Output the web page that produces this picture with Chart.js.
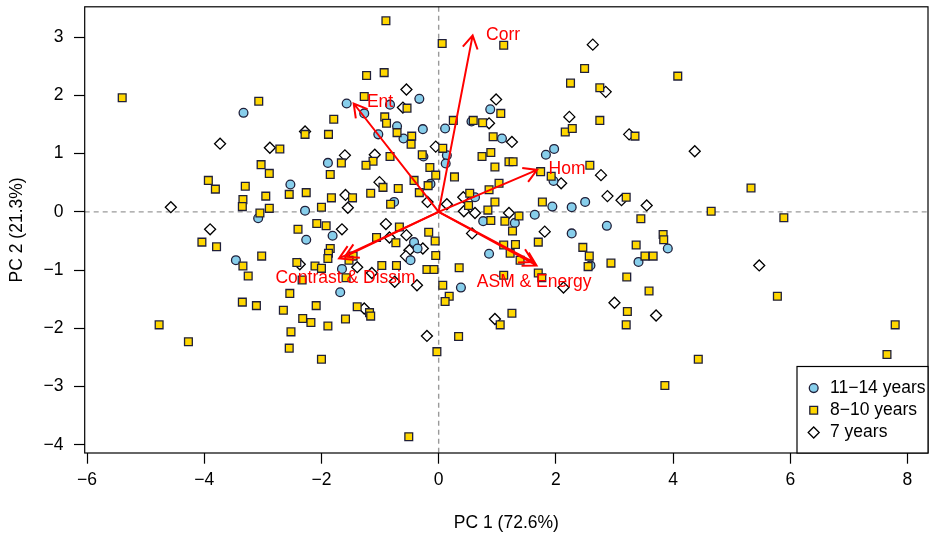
<!DOCTYPE html>
<html>
<head>
<meta charset="utf-8">
<script src="https://cdn.jsdelivr.net/npm/chart.js@4.4.0/dist/chart.umd.min.js"></script>
<style>
  body { margin: 0; background: #fff; }
  #wrap { width: 935px; height: 542px; }
</style>
</head>
<body>
<div id="wrap"><canvas id="biplot" width="935" height="542"></canvas></div>
<script>
// legend names of the three age groups
const groups = ['11\u221214 years', '8\u221210 years', '7 years']

// PC scores, [PC1, PC2]
const olderPts = [
    [-3.33, 1.70], [-1.57, 1.86], [-0.33, 1.94], [-0.83, 1.84], [-1.27, 1.69], [-0.71, 1.47], [-0.60, 1.26], [-0.27, 1.42],
    [0.11, 1.43], [-1.03, 1.33], [0.14, 0.97], [0.88, 1.76], [0.56, 1.55], [1.08, 1.26], [1.97, 1.08], [1.83, 0.98],
    [-1.89, 0.84], [-2.53, 0.47], [-3.08, -0.11], [-2.28, 0.02], [-1.81, -0.41], [-2.26, -0.48], [-3.46, -0.83], [-1.65, -0.98],
    [-1.68, -1.38], [-0.26, 0.95], [0.12, 0.83], [-0.14, 0.48], [-0.76, 0.17], [0.62, 0.25], [1.64, -0.05], [0.76, -0.16],
    [1.30, -0.19], [-0.42, -0.52], [-0.36, -0.63], [-0.48, -0.83], [0.86, -0.72], [0.38, -1.30], [1.96, 0.53], [1.94, 0.09],
    [2.27, 0.08], [2.50, 0.17], [2.87, -0.24], [2.27, -0.37], [3.91, -0.63], [3.41, -0.86], [2.59, -0.92]
]

const middlePts = [
    [-5.40, 1.96], [-3.07, 1.90], [-0.90, 3.28], [0.06, 2.89], [-1.23, 2.34], [-0.93, 2.39], [-1.27, 1.98], [-0.54, 1.78],
    [-1.79, 1.59], [-0.92, 1.63], [-0.89, 1.52], [-0.71, 1.36], [-0.46, 1.30], [-0.47, 1.16], [-1.88, 1.33], [-2.28, 1.33],
    [-2.71, 1.08], [-0.83, 0.95], [-0.28, 0.98], [0.07, 1.09], [1.11, 2.86], [2.49, 2.46], [2.25, 2.21], [2.75, 2.13],
    [4.08, 2.33], [1.06, 1.69], [0.25, 1.57], [0.59, 1.57], [0.75, 1.53], [0.93, 1.29], [0.89, 1.02], [0.74, 0.95],
    [2.75, 1.57], [2.16, 1.37], [2.28, 1.43], [3.35, 1.30], [-3.03, 0.81], [-2.89, 0.66], [-1.66, 0.84], [-1.85, 0.64],
    [-3.93, 0.54], [-3.81, 0.39], [-3.30, 0.44], [-2.55, 0.30], [-2.26, 0.33], [-2.95, 0.27], [-3.34, 0.21], [-3.35, 0.09],
    [-1.83, 0.24], [-2.89, 0.06], [-3.05, -0.02], [-2.00, 0.08], [-2.40, -0.30], [-2.08, -0.20], [-1.92, -0.24], [-4.04, -0.52],
    [-3.79, -0.60], [-3.02, -0.76], [-1.85, -0.63], [-1.88, -0.71], [-1.89, -0.80], [-3.34, -0.93], [-3.25, -1.10], [-2.42, -0.87],
    [-2.11, -0.93], [-2.00, -0.97], [-1.58, -1.13], [-2.33, -1.17], [-2.54, -1.40], [-3.35, -1.55], [-3.11, -1.61], [-2.65, -1.69],
    [-2.09, -1.61], [-1.12, 0.87], [-1.24, 0.80], [-0.15, 0.76], [-0.05, 0.63], [0.27, 0.60], [0.96, 0.77], [1.20, 0.86],
    [1.27, 0.86], [1.74, 0.69], [-0.95, 0.42], [-0.69, 0.40], [-0.42, 0.54], [-0.18, 0.45], [-0.33, 0.33], [-1.16, 0.32],
    [-1.47, 0.24], [-0.82, 0.13], [0.86, 0.38], [1.03, 0.49], [0.53, 0.32], [0.96, 0.17], [0.51, 0.11], [0.84, 0.03],
    [1.37, -0.07], [0.89, -0.15], [1.13, -0.16], [-0.67, -0.26], [1.26, -0.33], [-0.17, -0.35], [-0.06, -0.50], [-1.06, -0.44],
    [-0.73, -0.53], [1.31, -0.56], [1.11, -0.57], [-0.05, -0.75], [1.22, -0.71], [1.39, -0.83], [-1.46, -0.76], [-1.53, -0.83],
    [-0.97, -0.92], [-0.72, -0.92], [-0.20, -0.99], [-0.08, -0.99], [0.35, -0.96], [1.70, -1.05], [0.07, -1.26], [0.18, -1.45],
    [0.11, -1.54], [-1.39, -1.63], [1.11, -1.09], [2.58, 0.80], [1.92, 0.61], [3.20, 0.25], [1.77, 0.17], [4.65, 0.01],
    [3.45, -0.12], [1.70, -0.52], [3.83, -0.39], [3.84, -0.48], [3.37, -0.57], [2.46, -0.61], [2.57, -0.76], [3.52, -0.76],
    [3.66, -0.76], [2.94, -0.88], [2.55, -0.94], [1.76, -1.13], [3.21, -1.12], [3.59, -1.36], [3.22, -1.71], [5.33, 0.41],
    [5.89, -0.10], [5.78, -1.45], [-4.77, -1.94], [-4.27, -2.23], [-2.32, -1.83], [-2.18, -1.90], [-2.52, -2.06], [-1.89, -1.96],
    [-1.59, -1.84], [-2.55, -2.34], [-2.00, -2.53], [-1.18, -1.73], [-1.16, -1.79], [1.05, -1.94], [1.25, -1.74], [0.34, -2.14],
    [-0.03, -2.40], [-0.51, -3.86], [3.20, -1.94], [4.43, -2.53], [3.86, -2.98], [7.79, -1.94], [7.65, -2.45]
]

const youngPts = [
    [-3.73, 1.17], [-0.55, 2.10], [-0.61, 1.79], [-2.28, 1.38], [-2.88, 1.10], [-1.60, 0.97], [-1.09, 0.98], [-0.05, 1.12],
    [2.63, 2.87], [2.85, 2.06], [0.98, 1.93], [0.86, 1.52], [1.25, 1.20], [2.23, 1.63], [3.25, 1.33], [-1.59, 0.29],
    [-4.57, 0.08], [-1.55, 0.07], [-3.90, -0.30], [-1.65, -0.30], [-2.37, -0.90], [-1.01, 0.51], [-0.19, 0.17], [0.14, 0.13],
    [0.42, 0.25], [0.43, 0.01], [0.62, -0.02], [1.20, -0.02], [-0.90, -0.21], [0.57, -0.37], [-0.55, -0.40], [-0.84, -0.44],
    [-0.27, -0.63], [-0.50, -0.66], [-0.56, -0.76], [-1.39, -0.95], [-1.14, -1.05], [-0.75, -1.20], [-0.37, -1.26], [-1.27, -1.66],
    [4.37, 1.04], [2.09, 0.49], [2.77, 0.63], [2.88, 0.27], [3.12, 0.20], [3.55, 0.11], [1.81, -0.34], [2.13, -1.30],
    [3.00, -1.56], [5.47, -0.92], [0.96, -1.84], [-0.20, -2.13], [3.71, -1.78]
]

const xTicks = [-6, -4, -2, 0, 2, 4, 6, 8]
const yTicks = [-4, -3, -2, -1, 0, 1, 2, 3]

// loading arrows, tip of each, drawn from the origin
const arrowNames = ['Corr', 'Ent', 'Hom', 'Contrast', 'Dissim', 'ASM', 'Energy']
const arrowX = [0.58, -1.45, 1.68, -1.70, -1.60, 1.67, 1.61]
const arrowY = [3.03, 1.86, 0.72, -0.80, -0.77, -0.92, -0.86]

// arrow labels (pairs that overlap share one label)
const arrowLabels = ['Corr', 'Ent', 'Hom', 'Contrast & Dissim', 'ASM & Energy']
const arrowLabelX = [1.10, -1.00, 2.19, -1.59, 1.63]
const arrowLabelY = [3.04, 1.89, 0.73, -1.14, -1.20]

const FONT = "'Liberation Sans', Arial, Helvetica, sans-serif"
const FSIZE = 17.5

function toXY(pts) {
    return pts.map(p => ({x: p[0], y: p[1]}))
}

function arrowHead(ctx, x0, y0, x1, y1) {
    var len = 15
    var ang = Math.PI / 6
    var t = Math.atan2(y1 - y0, x1 - x0)
    ctx.moveTo(x1 - len * Math.cos(t - ang), y1 - len * Math.sin(t - ang))
    ctx.lineTo(x1, y1)
    ctx.lineTo(x1 - len * Math.cos(t + ang), y1 - len * Math.sin(t + ang))
}

// dashed zero lines, red loading arrows, frame and the boxed legend
const biplotExtras = {
    id: 'biplotExtras',
    beforeDatasetsDraw(chart) {
        const {ctx, chartArea: a, scales: {x, y}} = chart
        ctx.save()
        ctx.strokeStyle = '#9a9a9a'
        ctx.lineWidth = 1.4
        ctx.setLineDash([5, 4])
        ctx.beginPath()
        ctx.moveTo(x.getPixelForValue(0), a.top)
        ctx.lineTo(x.getPixelForValue(0), a.bottom)
        ctx.moveTo(a.left, y.getPixelForValue(0))
        ctx.lineTo(a.right, y.getPixelForValue(0))
        ctx.stroke()
        ctx.restore()
    },
    afterDatasetsDraw(chart) {
        const {ctx, scales: {x, y}} = chart
        var x0 = x.getPixelForValue(0)
        var y0 = y.getPixelForValue(0)
        ctx.save()
        ctx.strokeStyle = '#ff0000'
        ctx.lineWidth = 2
        for (var i = 0; i < arrowNames.length; i++) {
            var x1 = x.getPixelForValue(arrowX[i])
            var y1 = y.getPixelForValue(arrowY[i])
            ctx.beginPath()
            ctx.moveTo(x0, y0)
            ctx.lineTo(x1, y1)
            arrowHead(ctx, x0, y0, x1, y1)
            ctx.stroke()
        }
        ctx.fillStyle = '#ff0000'
        ctx.font = FSIZE + 'px ' + FONT
        ctx.textAlign = 'center'
        ctx.textBaseline = 'middle'
        for (var j = 0; j < arrowLabels.length; j++) {
            ctx.fillText(arrowLabels[j], x.getPixelForValue(arrowLabelX[j]), y.getPixelForValue(arrowLabelY[j]))
        }
        ctx.restore()
    },
    afterDraw(chart) {
        const {ctx, chartArea: a} = chart
        ctx.save()
        ctx.strokeStyle = '#000'
        ctx.lineWidth = 1.2
        ctx.strokeRect(a.left, a.top, a.right - a.left, a.bottom - a.top)

        // legend sits in the bottom right corner of the plot
        var w = 131, h = 86.5
        var lx = a.right - w, ly = a.bottom - h
        ctx.fillStyle = '#fff'
        ctx.fillRect(lx, ly, w, h)
        ctx.strokeRect(lx, ly, w, h)
        ctx.font = FSIZE + 'px ' + FONT
        ctx.textAlign = 'left'
        ctx.textBaseline = 'middle'
        chart.data.datasets.forEach((ds, i) => {
            var yy = ly + 21.6 + i * 22.2
            ctx.fillStyle = ds.backgroundColor
            ctx.strokeStyle = ds.borderColor
            ctx.lineWidth = ds.borderWidth
            Chart.helpers.drawPoint(ctx, {
                pointStyle: ds.pointStyle, radius: ds.pointRadius, rotation: 0, borderWidth: ds.borderWidth
            }, lx + 16.7, yy)
            ctx.fillStyle = '#000'
            ctx.fillText(ds.label, lx + 33, yy)
        })
        ctx.restore()
    }
}

const tickFont = {family: FONT, size: FSIZE}

const config = {
    type: 'scatter',
    data: {
        datasets: [{
            label: groups[0],
            data: toXY(olderPts),
            pointStyle: 'circle',
            pointRadius: 4.4,
            backgroundColor: '#87ceeb',
            borderColor: '#20203a',
            borderWidth: 1.3,
            order: 2
        }, {
            label: groups[1],
            data: toXY(middlePts),
            pointStyle: 'rect',
            pointRadius: 5.5,
            backgroundColor: '#ffd700',
            borderColor: '#20203a',
            borderWidth: 1.3,
            order: 1
        }, {
            label: groups[2],
            data: toXY(youngPts),
            pointStyle: 'rectRot',
            pointRadius: 5.5,
            backgroundColor: '#ffffff',
            borderColor: '#000000',
            borderWidth: 1.3,
            order: 3
        }]
    },
    options: {
        responsive: false,
        animation: false,
        events: [],
        layout: {padding: {left: 0, right: 7, top: 6, bottom: 0}},
        plugins: {
            legend: {display: false},
            tooltip: {enabled: false}
        },
        scales: {
            x: {
                type: 'linear',
                min: -6.04,
                max: 8.35,
                afterBuildTicks: scale => { scale.ticks = xTicks.map(v => ({value: v})) },
                afterFit: scale => {
                    scale.height = 89
                    scale.paddingLeft = 0
                    scale.paddingRight = 0
                },
                grid: {drawOnChartArea: false, drawTicks: true, tickLength: 10.7, color: '#000', tickWidth: 1.2},
                border: {display: false},
                ticks: {font: tickFont, color: '#000', padding: 6, maxRotation: 0,
                    callback: v => String(v).replace('-', '\u2212')},
                title: {display: true, text: 'PC 1 (72.6%)', font: tickFont, color: '#000',
                    padding: {top: 0, bottom: 8.5}}
            },
            y: {
                type: 'linear',
                min: -4.14,
                max: 3.52,
                afterBuildTicks: scale => { scale.ticks = yTicks.map(v => ({value: v})) },
                afterFit: scale => {
                    scale.width = 84.7
                    scale.paddingTop = 0
                    scale.paddingBottom = 0
                },
                grid: {drawOnChartArea: false, drawTicks: true, tickLength: 10.7, color: '#000', tickWidth: 1.2},
                border: {display: false},
                ticks: {font: tickFont, color: '#000', padding: 10.6,
                    callback: v => String(v).replace('-', '\u2212')},
                title: {display: true, text: 'PC 2 (21.3%)', font: tickFont, color: '#000',
                    padding: {top: 6.5, bottom: 0}}
            }
        }
    },
    plugins: [biplotExtras]
}

new Chart(document.getElementById('biplot'), config)
</script>
</body>
</html>
